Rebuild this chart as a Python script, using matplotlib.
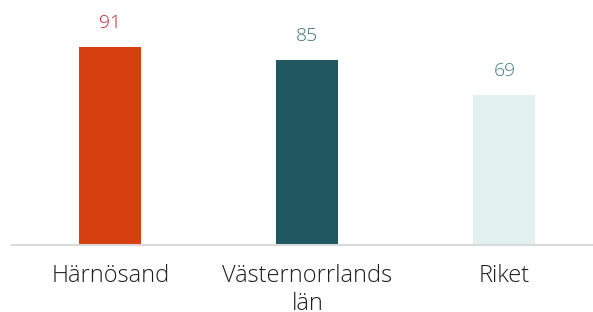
import matplotlib.pyplot as plt

categories = ["Härnösand", "Västernorrlands\nlän", "Riket"]
values = [91, 85, 69]
bar_colors = ["#D63F0F", "#215760", "#E3F2EE"]
label_colors = ["#C4262E", "#3F7178", "#3F7F86"]

plt.rcParams["font.family"] = ["Open Sans", "DejaVu Sans"]

fig = plt.figure(figsize=(5.93, 3.12), dpi=100)
ax = fig.add_axes([0, 0.2147, 1, 0.7853])

x = range(len(values))
bars = ax.bar(x, values, width=0.315, color=bar_colors, zorder=2)

for xi, v, c in zip(x, values, label_colors):
    ax.annotate(str(v), (xi, v), xytext=(0, 11), textcoords="offset points",
                ha="center", va="bottom", fontsize=14, color=c, fontweight="light")

ax.set_xlim(-0.56, 2.45)
ax.set_ylim(0, 112.6)
ax.set_xticks(list(x))
ax.set_xticklabels(categories, fontsize=17, color="#1E1E1E", fontweight="light",
                   linespacing=1.2)
ax.tick_params(axis="x", length=0, pad=14)
ax.set_yticks([])
for s in ["top", "right", "left"]:
    ax.spines[s].set_visible(False)
ax.spines["bottom"].set_color("#D9D9D9")
ax.spines["bottom"].set_linewidth(1.5)
ax.spines["bottom"].set_bounds(-0.5, 2.45)

fig.savefig("out.png", dpi=100)
